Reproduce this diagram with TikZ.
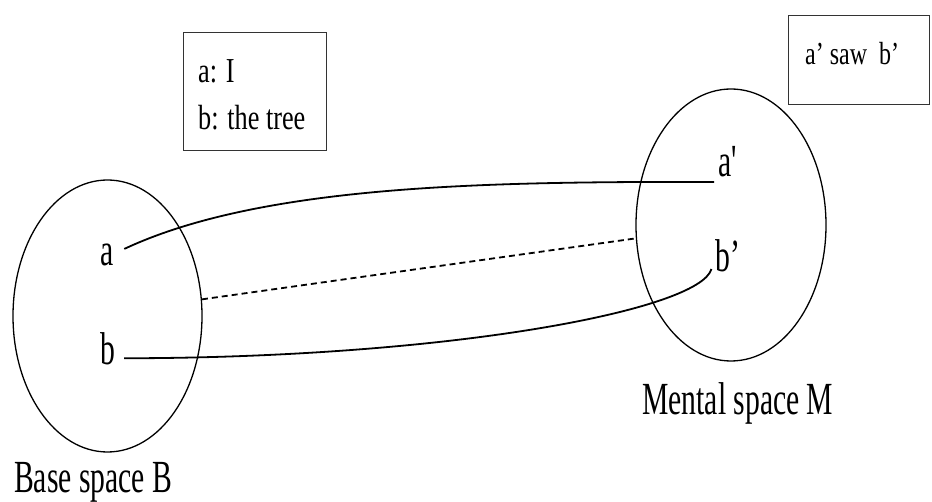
\documentclass[tikz,border=0pt]{standalone}
\usepackage{fontspec}
\setmainfont{Liberation Serif}[FakeStretch=0.645]
\newfontfamily\boxfont{Liberation Serif}[FakeStretch=0.75]
\usetikzlibrary{shapes.geometric,calc}
\begin{document}
\begin{tikzpicture}[x=1pt,y=-1pt,
  space/.style={draw, ellipse, inner sep=0pt, line width=1.3pt},
  lbl/.style={anchor=base, inner sep=0pt, font=\fontsize{46}{50}\selectfont},
  biglbl/.style={anchor=base west, inner sep=0pt, font=\fontsize{46}{50}\selectfont},
  infobox/.style={draw=black!80, line width=1.4pt, anchor=north west, inner sep=0pt},
  boxtext/.style={anchor=base west, inner sep=0pt},
  link/.style={line width=1.8pt},
  dlink/.style={line width=1.8pt, dash pattern=on 6pt off 4pt}]
\useasboundingbox (0,0) rectangle (932,502);
% spaces
\node[space, minimum width=189pt, minimum height=272pt] (B) at (107.5,316) {};
\node[space, minimum width=190pt, minimum height=272pt] (M) at (731,225) {};
% labels
\node[lbl] (a) at (107.5,266) {a};
\node[lbl] (b) at (107.5,365) {b};
\node[lbl] (ap) at (729,177) {a\textquotesingle};
\node[lbl] (bp) at (728,272) {b’};
\node[biglbl] (Blbl) at (14,493) {Base space B};
\node[biglbl] (Mlbl) at (642,415) {Mental space M};
% boxes
\node[infobox, minimum width=143pt, minimum height=118pt] (box1) at (183,32) {};
\node[boxtext, font=\boxfont\fontsize{35}{47}\selectfont] (t1) at (198,83) {a: I};
\node[boxtext, font=\boxfont\fontsize{35}{47}\selectfont] (t2) at (198,130) {b: the tree};
\node[infobox, minimum width=141pt, minimum height=89pt] (box2) at (788,15) {};
\node[boxtext, font=\boxfont\fontsize{32}{40}\selectfont] (t3) at (805,65) {a’ saw~~b’};
% connectors
\draw[link] ($(a.east)+(10,-6.5)$) .. controls (250,190) and (450,183) .. (640,182) -- ($(ap.base west)+(-4,5)$);
\draw[link] ($(b.east)+(9,9)$) .. controls (450,358) and (700,310) .. ($(bp.base west)+(-4,-3)$);
\draw[dlink] (B.10) -- (M.188);
\end{tikzpicture}
\end{document}
